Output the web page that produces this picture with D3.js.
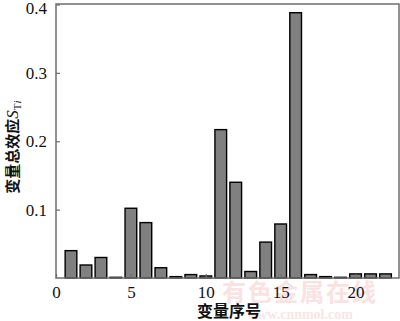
<!DOCTYPE html>
<html><head><meta charset="utf-8">
<script src="https://cdn.jsdelivr.net/npm/d3@7"></script>
<style>body{margin:0;background:#fff}svg{display:block}</style>
</head><body>
<svg id="c" width="400" height="321"></svg>
<script>
const categories = [1,2,3,4,5,6,7,8,9,10,11,12,13,14,15,16,17,18,19,20,21,22];
const values = [0.040,0.019,0.030,0.001,0.102,0.081,0.015,0.002,0.005,0.003,0.217,0.140,0.0095,0.0525,0.079,0.388,0.005,0.002,0.001,0.006,0.006,0.006];
const xTicks = [0,5,10,15,20];
const yTicks = [0.1,0.2,0.3,0.4];
const yTickLabels = ["0.1","0.2","0.3","0.4"];

const SERIF = '"Liberation Serif", "DejaVu Serif", serif';
const CJK = '"Noto Sans CJK SC", sans-serif';
const svg = d3.select("#c");
const L=56, R=399, T=4, B=278;
const x = d3.scaleLinear().domain([0,22.9]).range([L,R]);
const y = d3.scaleLinear().domain([0,0.4]).range([B,T+0.5]);
const bw = 0.78*(x(1)-x(0));

// watermark
svg.append("text").attr("x",300).attr("y",301).attr("text-anchor","middle")
  .style("font-family",CJK).style("font-size","24px").style("font-weight","bold")
  .attr("fill","#f9e2e2").attr("letter-spacing",2).text("有色金属在线");
svg.append("text").attr("x",300).attr("y",319).attr("text-anchor","middle")
  .style("font-family",SERIF).style("font-size","14px").style("font-weight","bold")
  .attr("fill","#f6e6e6").text("www.cnnmol.com");

// bars
svg.selectAll("rect.bar").data(categories).enter().append("rect")
  .attr("class","bar")
  .attr("x",(d)=>x(d)-bw/2)
  .attr("width",bw)
  .attr("y",(d,i)=>y(values[i]))
  .attr("height",(d,i)=>Math.max(0.5,B-y(values[i])))
  .attr("fill","#808080").attr("stroke","#000").attr("stroke-width",1.4);

// frame
svg.append("rect").attr("x",L).attr("y",T).attr("width",R-L).attr("height",B-T)
  .attr("fill","none").attr("stroke","#6e6e6e").attr("stroke-width",1.5);

// axes
const yAxis = d3.axisLeft(y).tickValues(yTicks).tickFormat((d,i)=>yTickLabels[i]).tickSizeInner(-4).tickSizeOuter(0).tickPadding(9);
const gy = svg.append("g").attr("transform",`translate(${L},0)`).call(yAxis);
gy.attr("font-family",null).attr("font-size",null);
gy.select(".domain").remove();
gy.selectAll("line").attr("stroke","#6e6e6e").attr("stroke-width",1.2);
gy.selectAll("text").style("font-family",SERIF).style("font-size","17px").attr("fill","#111");
gy.selectAll(".tick").filter(d=>d===0.4).select("text").attr("dy","0.5em");

const xAxis = d3.axisBottom(x).tickValues(xTicks).tickFormat(d3.format("d")).tickSizeInner(-4).tickSizeOuter(0).tickPadding(8);
const gx = svg.append("g").attr("transform",`translate(0,${B})`).call(xAxis);
gx.attr("font-family",null).attr("font-size",null);
gx.select(".domain").remove();
gx.selectAll("line").attr("stroke","#6e6e6e").attr("stroke-width",1.2);
gx.selectAll("text").style("font-family",SERIF).style("font-size","17px").attr("fill","#111");

// titles
svg.append("text").attr("x",229).attr("y",317).attr("text-anchor","middle")
  .style("font-family",CJK).style("font-size","16px").style("font-weight","bold").attr("fill","#111")
  .text("变量序号");
const yt = svg.append("text").attr("transform","translate(18,147) rotate(-90)")
  .attr("text-anchor","middle").style("font-family",CJK).style("font-size","15px").style("font-weight","bold").attr("fill","#111");
yt.append("tspan").text("变量总效应");
yt.append("tspan").style("font-family",SERIF).style("font-style","italic").style("font-weight","normal").style("font-size","17px").text("S");
yt.append("tspan").style("font-family",SERIF).style("font-weight","normal").style("font-size","11px").attr("dy",3).text("T");
yt.append("tspan").style("font-family",SERIF).style("font-style","italic").style("font-weight","normal").style("font-size","11px").text("i");
</script>
</body></html>
